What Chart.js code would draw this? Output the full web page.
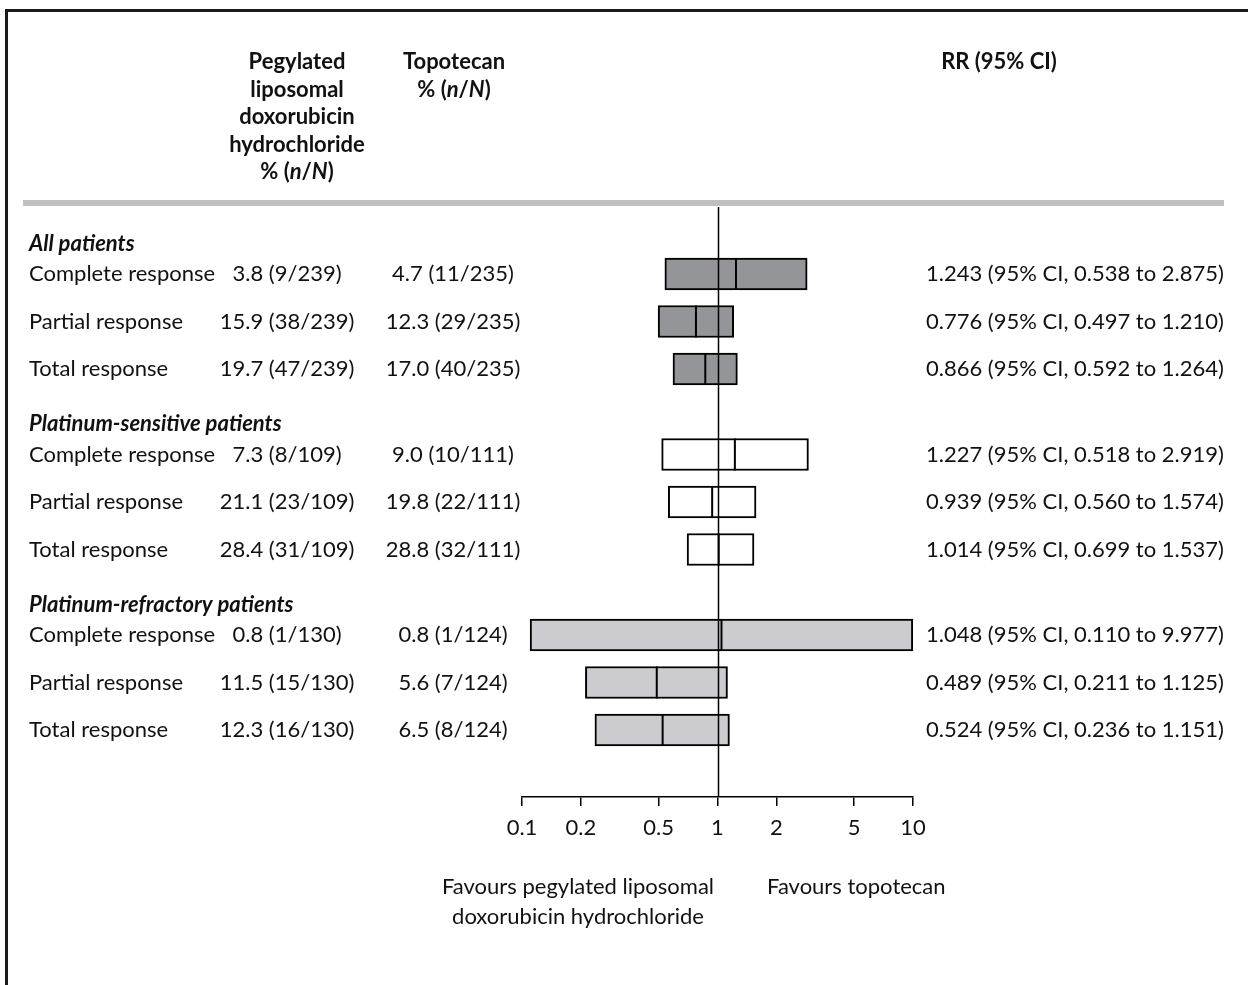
<!DOCTYPE html>
<html>
<head>
<meta charset="utf-8">
<script src="https://cdn.jsdelivr.net/npm/chart.js@4/dist/chart.umd.min.js"></script>
<style>
  html, body { margin: 0; padding: 0; background: #ffffff; }
  #wrap { position: relative; width: 1248px; height: 985px; }
</style>
</head>
<body>
<div id="wrap"><canvas id="forest" width="1248" height="985"></canvas></div>
<script>
// Subgroups and outcomes
const groups = ['All patients', 'Platinum-sensitive patients', 'Platinum-refractory patients'];
const outcomes = ['Complete response', 'Partial response', 'Total response'];

// Response rates, % (n/N)
const pldRates = ['3.8 (9/239)', '15.9 (38/239)', '19.7 (47/239)',
                  '7.3 (8/109)', '21.1 (23/109)', '28.4 (31/109)',
                  '0.8 (1/130)', '11.5 (15/130)', '12.3 (16/130)'];
const topoRates = ['4.7 (11/235)', '12.3 (29/235)', '17.0 (40/235)',
                   '9.0 (10/111)', '19.8 (22/111)', '28.8 (32/111)',
                   '0.8 (1/124)', '5.6 (7/124)', '6.5 (8/124)'];

// Relative risk with 95% confidence interval
const rr     = [1.243, 0.776, 0.866, 1.227, 0.939, 1.014, 1.048, 0.489, 0.524];
const ciLow  = [0.538, 0.497, 0.592, 0.518, 0.560, 0.699, 0.110, 0.211, 0.236];
const ciHigh = [2.875, 1.210, 1.264, 2.919, 1.574, 1.537, 9.977, 1.125, 1.151];

// Log-scale axis ticks
const xTicks = [0.1, 0.2, 0.5, 1, 2, 5, 10];

const FONT = 'Lato';
const S = 22;                    // text size
const GROUP_STEP = 3.8;          // rows per subgroup block, including the gap
const groupFills = ['#939599', '#ffffff', '#cbcbd0'];

const rowY = [];
const rowFill = [];
groups.forEach((g, gi) => {
  outcomes.forEach((o, oi) => {
    rowY.push(gi * GROUP_STEP + oi);
    rowFill.push(groupFills[gi]);
  });
});

function fmt(v) { return v.toFixed(3); }

// Draw a line made of differently styled runs
function drawRuns(ctx, runs, x, y, align) {
  const widths = runs.map(r => { ctx.font = r.s + ' ' + S + 'px ' + FONT; return ctx.measureText(r.t).width; });
  const total = widths.reduce((a, b) => a + b, 0);
  let cx = align === 'center' ? x - total / 2 : (align === 'right' ? x - total : x);
  ctx.textAlign = 'left';
  ctx.textBaseline = 'middle';
  runs.forEach((r, i) => {
    ctx.font = r.s + ' ' + S + 'px ' + FONT;
    ctx.fillText(r.t, cx, y);
    cx += widths[i];
  });
}

const nOverN = [{t: '% (', s: 'bold'}, {t: 'n', s: 'italic bold'}, {t: '/', s: 'bold'},
                {t: 'N', s: 'italic bold'}, {t: ')', s: 'bold'}];

const decorations = {
  id: 'decorations',
  beforeDraw(chart) {
    const ctx = chart.ctx;
    ctx.save();
    ctx.fillStyle = '#ffffff';
    ctx.fillRect(0, 0, chart.width, chart.height);
    // frame
    ctx.strokeStyle = '#1a1a1a';
    ctx.lineWidth = 3;
    ctx.beginPath();
    ctx.moveTo(6.5, chart.height);
    ctx.lineTo(6.5, 10.5);
    ctx.lineTo(chart.width, 10.5);
    ctx.stroke();
    // header rule
    ctx.fillStyle = '#c0c0c0';
    ctx.fillRect(23, 200, 1201, 6);
    ctx.restore();
  },
  afterDatasetsDraw(chart) {
    const ctx = chart.ctx;
    const xs = chart.scales.x, ys = chart.scales.y, area = chart.chartArea;
    ctx.save();
    // line of no effect
    const x1 = Math.round(xs.getPixelForValue(1)) + 0.5;
    ctx.strokeStyle = '#000';
    ctx.lineWidth = 1.5;
    ctx.beginPath();
    ctx.moveTo(x1, area.top);
    ctx.lineTo(x1, area.bottom);
    ctx.stroke();

    ctx.fillStyle = '#111';
    // column headings
    const pldHead = ['Pegylated', 'liposomal', 'doxorubicin', 'hydrochloride'];
    pldHead.forEach((t, i) => drawRuns(ctx, [{t, s: 'bold'}], 297, 62 + i * 27.5, 'center'));
    drawRuns(ctx, nOverN, 297, 62 + 4 * 27.5, 'center');
    drawRuns(ctx, [{t: 'Topotecan', s: 'bold'}], 454, 62, 'center');
    drawRuns(ctx, nOverN, 454, 89.5, 'center');
    drawRuns(ctx, [{t: 'RR (95% CI)', s: 'bold'}], 999, 62, 'center');

    // subgroup headings
    groups.forEach((g, gi) => {
      const y = ys.getPixelForValue(gi * GROUP_STEP - 0.64);
      drawRuns(ctx, [{t: g, s: 'italic bold'}], 29, y, 'left');
    });

    // rows
    rowY.forEach((v, i) => {
      const y = ys.getPixelForValue(v);
      drawRuns(ctx, [{t: outcomes[i % 3], s: 'normal'}], 29, y, 'left');
      drawRuns(ctx, [{t: pldRates[i], s: 'normal'}], 287, y, 'center');
      drawRuns(ctx, [{t: topoRates[i], s: 'normal'}], 453, y, 'center');
      const label = fmt(rr[i]) + ' (95% CI, ' + fmt(ciLow[i]) + ' to ' + fmt(ciHigh[i]) + ')';
      drawRuns(ctx, [{t: label, s: 'normal'}], 926, y, 'left');
    });

    // axis captions
    drawRuns(ctx, [{t: 'Favours pegylated liposomal', s: 'normal'}], 578, 887, 'center');
    drawRuns(ctx, [{t: 'doxorubicin hydrochloride', s: 'normal'}], 578, 917, 'center');
    drawRuns(ctx, [{t: 'Favours topotecan', s: 'normal'}], 767, 887, 'left');
    ctx.restore();
  }
};

new Chart(document.getElementById('forest'), {
  data: {
    datasets: [
      {
        type: 'bar',
        indexAxis: 'y',
        data: rowY.map((v, i) => ({x: [ciLow[i], ciHigh[i]], y: v})),
        backgroundColor: rowFill,
        borderColor: '#000',
        borderWidth: 2,
        borderSkipped: false,
        barThickness: 32,
        order: 2
      },
      {
        type: 'scatter',
        data: rowY.map((v, i) => ({x: rr[i], y: v})),
        pointStyle: 'line',
        rotation: 90,
        radius: 16,
        borderColor: '#000',
        borderWidth: 2,
        order: 1
      }
    ]
  },
  options: {
    responsive: false,
    animation: false,
    events: [],
    layout: { padding: { left: 522, right: 335, top: 207, bottom: 128 } },
    plugins: { legend: { display: false }, tooltip: { enabled: false } },
    scales: {
      x: {
        type: 'logarithmic',
        min: 0.1,
        max: 10,
        position: 'bottom',
        afterBuildTicks: s => { s.ticks = xTicks.map(v => ({ value: v })); },
        afterFit: s => { s.height = 60; },
        border: { display: true, color: '#000', width: 1.5 },
        grid: { display: true, drawOnChartArea: false, drawTicks: true, tickLength: 9, color: '#000', lineWidth: 1.5 },
        ticks: {
          autoSkip: false,
          maxRotation: 0,
          padding: 9,
          color: '#111',
          font: { family: FONT, size: S },
          callback: v => String(v)
        }
      },
      y: {
        type: 'linear',
        reverse: true,
        min: -1.41,
        max: 11.01,
        offset: false,
        display: false
      }
    }
  },
  plugins: [decorations]
});
</script>
</body>
</html>
